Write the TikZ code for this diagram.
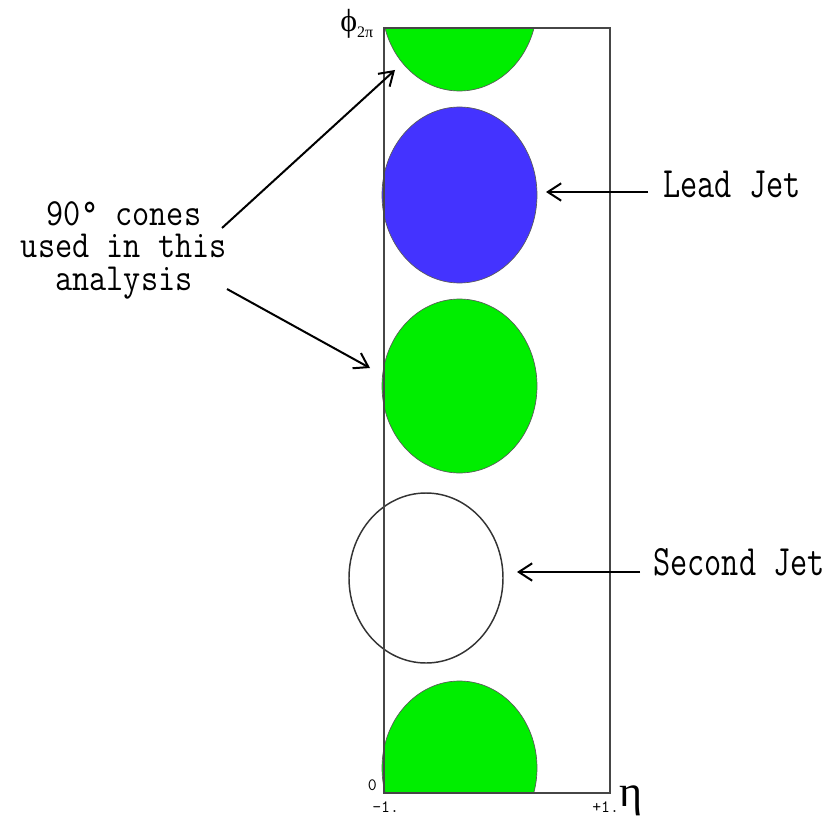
\documentclass[tikz,border=0pt]{standalone}
\usepackage{fontspec}
\usepackage{graphicx}
\usetikzlibrary{arrows.meta}

\newfontfamily\greekserif{Liberation Serif}

\definecolor{conegreen}{RGB}{0,238,0}
\definecolor{coneblue}{RGB}{68,51,255}
\definecolor{framegrey}{RGB}{70,70,70}

% tall, narrow typewriter lettering for the annotations
\newcommand\tallmono[1]{\scalebox{1}[1.3]{#1}}
% centred block of lines with a fixed baseline pitch, stretched upwards
\newcommand\stackmono[1]{\scalebox{1}[1.15]{\vbox{\baselineskip=20.9pt\lineskiplimit=-100pt
  \halign{\hfil##\hfil\cr #1\cr}}}}

\begin{document}
\begin{tikzpicture}[x=0.75pt,y=-0.75pt,
  note/.style={font=\fontsize{25}{30}\selectfont\ttfamily, inner sep=0pt},
  tick/.style={font=\fontsize{13}{15}\selectfont\ttfamily, inner sep=0pt},
  axisname/.style={inner sep=0pt},
  cone/.style={draw=black!65, line width=0.5pt},
  pointer/.style={-{Straight Barb[length=10pt,width=13pt]}, line width=1.5pt},
  frameline/.style={draw=framegrey, line width=1.1pt}]

\useasboundingbox (0,0) rectangle (836,817);

% cones in the eta-phi plane
\fill[coneblue, cone] (459.5,195) ellipse [x radius=77.5, y radius=88];
\fill[conegreen, cone] (459.5,386) ellipse [x radius=77.5, y radius=87];
\begin{scope}
  \clip (300,28) rectangle (700,793);
  \fill[conegreen, cone] (459.5,4) ellipse [x radius=77.5, y radius=87];
  \fill[conegreen, cone] (459.5,768) ellipse [x radius=77.5, y radius=87];
\end{scope}
\draw[draw=black!80, line width=1.1pt] (426,578) ellipse [x radius=77, y radius=85];

% eta-phi frame
\draw[frameline] (384,28) rectangle (610,793);

% axis labels
\node[axisname, anchor=base west] (phi) at (340,32)
  {\greekserif\fontsize{24}{26}\selectfont ϕ\raisebox{-4pt}{\fontsize{12}{14}\selectfont 2π}};
\node[axisname, anchor=base west] (eta) at (619,806) {\greekserif\fontsize{33}{35}\selectfont η};
\node[tick, anchor=base east] (zero) at (377,790) {0};
\node[tick, anchor=base west] (etamin) at (372,812) {-1.};
\node[tick, anchor=base west] (etamax) at (592,812) {+1.};

% annotations
\node[note, anchor=base] (cones) at (124,290)
  {\stackmono{90° cones\cr used in this\cr analysis}};
\node[note, anchor=base west] (lead) at (663,197) {\tallmono{Lead Jet}};
\node[note, anchor=base west] (second) at (653,575) {\tallmono{Second Jet}};

% arrows
\coordinate (upstart) at (222,228);
\coordinate (uptip) at (395,70);
\coordinate (downstart) at (227,289);
\coordinate (downtip) at (370,368);
\coordinate (leadstart) at (648,192);
\coordinate (leadtip) at (546,192);
\coordinate (secondstart) at (640,572);
\coordinate (secondtip) at (517,572);

\draw[pointer] (upstart) -- (uptip);
\draw[pointer] (downstart) -- (downtip);
\draw[pointer] (leadstart) -- (leadtip);
\draw[pointer] (secondstart) -- (secondtip);

\end{tikzpicture}
\end{document}
